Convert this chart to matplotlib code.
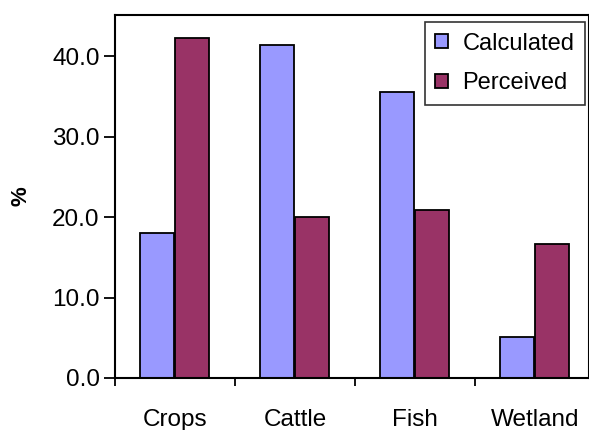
import matplotlib
matplotlib.use("Agg")
import matplotlib.pyplot as plt
import numpy as np

categories = ["Crops", "Cattle", "Fish", "Wetland"]
calculated = [18.0, 41.4, 35.5, 5.1]
perceived = [42.2, 20.0, 20.9, 16.7]

plt.rcParams["font.family"] = ["Liberation Sans", "DejaVu Sans"]

fig = plt.figure(figsize=(5.89, 4.30), dpi=100)
ax = fig.add_axes([115 / 589, 1 - 378 / 430, 1 - 115 / 589, (378 - 15) / 430])

x = np.arange(len(categories))
w = 0.285
ax.bar(x + 0.495 - w / 2 - 0.005, calculated, w, color="#9999FF",
       edgecolor="black", linewidth=1.3, label="Calculated")
ax.bar(x + 0.495 + w / 2 + 0.005, perceived, w, color="#993366",
       edgecolor="black", linewidth=1.3, label="Perceived")

ax.set_xlim(0, 474 / 120)
ax.set_ylim(0, 45.1)

ax.set_xticks(x)
ax.set_xticklabels([])
ax.set_xticks(x + 0.5, minor=True)
ax.set_xticklabels(categories, minor=True, fontsize=17.5)
ax.tick_params(axis="x", which="major", direction="out", length=6, width=1.3)
ax.tick_params(axis="x", which="minor", length=0, pad=22)

ax.set_yticks([0, 10, 20, 30, 40])
ax.set_yticklabels(["0.0", "10.0", "20.0", "30.0", "40.0"], fontsize=17.5)
ax.tick_params(axis="y", direction="out", length=8, width=1.3, pad=3)

for s in ["left", "bottom", "top", "right"]:
    ax.spines[s].set_linewidth(1.5)

ax.set_ylabel("%", fontsize=16, fontweight="bold")
ax.yaxis.set_label_coords(-0.177, 0.5)

leg = ax.legend(loc="upper right", bbox_to_anchor=(0.992, 0.981), fontsize=17,
                frameon=True, fancybox=False, edgecolor="black",
                handlelength=0.55, handleheight=0.55, handletextpad=0.6,
                borderpad=0.45, labelspacing=0.75, borderaxespad=0)
leg.get_frame().set_linewidth(1.2)

fig.savefig("out.png", dpi=100)
